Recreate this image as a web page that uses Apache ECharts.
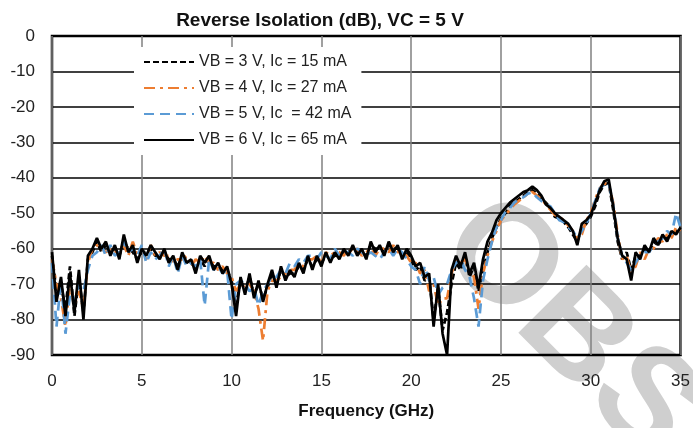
<!DOCTYPE html>
<html>
<head>
<meta charset="utf-8">
<script src="https://cdn.jsdelivr.net/npm/echarts@6/dist/echarts.min.js"></script>
<style>
  html, body { margin: 0; padding: 0; background: #fff; }
  #chart { width: 693px; height: 428px; }
</style>
</head>
<body>
<div id="chart"></div>
<script>
// frequency grid (GHz), 0.25 GHz steps, 8 per row
const freq = [
  0, 0.25, 0.5, 0.75, 1, 1.25, 1.5, 1.75,
  2, 2.25, 2.5, 2.75, 3, 3.25, 3.5, 3.75,
  4, 4.25, 4.5, 4.75, 5, 5.25, 5.5, 5.75,
  6, 6.25, 6.5, 6.75, 7, 7.25, 7.5, 7.75,
  8, 8.25, 8.5, 8.75, 9, 9.25, 9.5, 9.75,
  10, 10.25, 10.5, 10.75, 11, 11.25, 11.5, 11.75,
  12, 12.25, 12.5, 12.75, 13, 13.25, 13.5, 13.75,
  14, 14.25, 14.5, 14.75, 15, 15.25, 15.5, 15.75,
  16, 16.25, 16.5, 16.75, 17, 17.25, 17.5, 17.75,
  18, 18.25, 18.5, 18.75, 19, 19.25, 19.5, 19.75,
  20, 20.25, 20.5, 20.75, 21, 21.25, 21.5, 21.75,
  22, 22.25, 22.5, 22.75, 23, 23.25, 23.5, 23.75,
  24, 24.25, 24.5, 24.75, 25, 25.25, 25.5, 25.75,
  26, 26.25, 26.5, 26.75, 27, 27.25, 27.5, 27.75,
  28, 28.25, 28.5, 28.75, 29, 29.25, 29.5, 29.75,
  30, 30.25, 30.5, 30.75, 31, 31.25, 31.5, 31.75,
  32, 32.25, 32.5, 32.75, 33, 33.25, 33.5, 33.75,
  34, 34.25, 34.5, 34.75, 35
];

// VB = 3 V, Ic = 15 mA
const vb3 = [
  -62, -72, -70, -77, -65, -79, -68, -78,
  -63, -61, -58, -61, -59, -61, -60, -62,
  -58, -60, -61, -63, -61, -61, -60, -62,
  -62, -61, -63, -63, -65, -62, -63, -64,
  -66, -63, -65, -63, -65, -65, -66, -66,
  -69, -76, -69, -72, -68, -73, -70, -74,
  -71, -67, -70, -66, -68, -67, -67, -65,
  -66, -63, -65, -63, -64, -62, -63, -62,
  -62, -61, -61, -60, -61, -61, -62, -59,
  -60, -60, -61, -59, -60, -60, -62, -61,
  -63, -66, -65, -69, -68, -80, -71, -83,
  -78, -70, -64, -66, -62, -68, -65, -72,
  -66, -61, -57, -54, -51.5, -50, -48, -47,
  -46, -45, -44, -43.5, -44.5, -46, -47, -48.5,
  -51, -51.5, -52.5, -54, -56, -58, -54, -53,
  -51, -48, -44, -42, -41.5, -49, -58, -63,
  -61, -66, -62, -62, -60, -61, -58, -59,
  -57, -57, -56, -55, -55
];

// VB = 4 V, Ic = 27 mA
const vb4 = [
  -63, -70, -74, -82, -70, -76, -72, -77,
  -64, -60, -59, -60, -61, -60, -61, -60,
  -59, -62, -58, -62, -60, -63, -59, -62,
  -61, -62, -62, -64, -63, -63, -62, -65,
  -63, -64, -62, -64, -64, -66, -65, -67,
  -68, -72, -70, -71, -70, -72, -77, -86,
  -72, -69, -69, -68, -67, -66, -66, -64,
  -65, -63, -63, -62, -64, -61, -62, -61,
  -61, -62, -60, -61, -60, -62, -61, -60,
  -62, -60, -60, -61, -59, -61, -61, -62,
  -64, -64, -67, -66, -72, -70, -76, -74,
  -74, -67, -63, -64, -63, -66, -68, -77,
  -67, -62, -58, -55, -52, -50.5, -49, -47.5,
  -46.5, -45.5, -44.5, -44, -45, -46, -47.5, -49,
  -50.5, -51, -52, -53.5, -55, -57, -56, -52,
  -50, -46, -43, -41.5, -42, -47, -56, -63,
  -62, -67, -65, -61, -63, -60, -60, -57,
  -58, -56, -57, -54, -55
];

// VB = 5 V, Ic = 42 mA
const vb5 = [
  -64, -82, -69, -84, -73, -75, -70, -72,
  -66, -62, -61, -59, -62, -59, -62, -61,
  -58, -61, -60, -62, -59, -64, -61, -63,
  -62, -60, -65, -62, -67, -62, -65, -64,
  -65, -63, -76, -63, -66, -65, -67, -66,
  -80, -70, -69, -70, -72, -71, -76, -72,
  -70, -68, -68, -66, -67, -64, -65, -63,
  -64, -62, -62, -63, -61, -62, -63, -60,
  -62, -61, -61, -62, -60, -61, -62, -61,
  -62, -63, -61, -60, -62, -60, -61, -63,
  -65, -66, -70, -65, -69, -68, -73, -71,
  -70, -66, -64, -63, -66, -68, -74, -82,
  -69, -63, -58, -54, -52, -49.5, -48.5, -47,
  -46, -45.5, -44.5, -44, -45.5, -46.5, -47.5, -48,
  -50, -52, -52.5, -54, -55, -57, -55, -53,
  -50, -46.5, -43, -42, -41.5, -47.5, -57, -62,
  -64, -66, -64, -62, -61, -61, -59, -58,
  -57, -55, -56, -50, -54
];

// VB = 6 V, Ic = 65 mA
const vb6 = [
  -61, -75, -68, -79, -67, -78, -66, -80,
  -62, -60, -57, -60, -58, -62, -59, -63,
  -56, -61, -59, -64, -60, -62, -59, -61,
  -63, -60, -64, -62, -66, -61, -64, -63,
  -67, -62, -64, -62, -66, -64, -67, -65,
  -70, -79, -68, -73, -67, -74, -69, -75,
  -70, -66, -71, -65, -69, -66, -68, -64,
  -67, -62, -66, -62, -65, -61, -64, -61,
  -63, -60, -62, -59, -62, -60, -63, -58,
  -61, -59, -62, -58, -61, -59, -63, -60,
  -62, -65, -64, -68, -67, -82, -70, -84,
  -90, -66, -62, -65, -61, -67, -64, -71,
  -63, -58, -55.5, -52, -50, -48.5, -47, -46,
  -45, -44, -43.5, -42.5, -43.5, -45, -47.5, -48.5,
  -50, -51, -52, -53, -55, -59, -53, -52,
  -50.5, -47, -43.5, -41, -40.5, -48, -57, -62,
  -63, -69, -61, -63, -59, -61, -57, -59,
  -56, -58, -55, -56, -54
];

const names = [
  'VB = 3 V, Ic = 15 mA',
  'VB = 4 V, Ic = 27 mA',
  'VB = 5 V, Ic  = 42 mA',
  'VB = 6 V, Ic = 65 mA'
];

const pairs = (vals) => vals.map((v, i) => [freq[i], v]);

const myChart = echarts.init(document.getElementById('chart'));
myChart.setOption({
  animation: false,
  textStyle: { fontFamily: 'Liberation Sans, Arial, sans-serif' },
  title: {
    text: 'Reverse Isolation (dB), VC = 5 V',
    left: 315,
    top: 6,
    textAlign: 'center',
    textStyle: { fontSize: 19, fontWeight: 'bold', color: '#111' }
  },
  legend: {
    orient: 'vertical',
    left: 134,
    top: 47,
    padding: [7, 10, 7, 9],
    backgroundColor: '#fff',
    itemWidth: 50,
    itemHeight: 14,
    itemGap: 10,
    data: names,
    itemStyle: { opacity: 0 },
    textStyle: { fontSize: 16, color: '#222' }
  },
  grid: {
    left: 52,
    right: 12,
    top: 36,
    bottom: 73,
    show: true,
    borderColor: '#000',
    borderWidth: 2.5,
    backgroundColor: 'transparent'
  },
  graphic: [{
    type: 'text',
    x: 462,
    y: 222,
    rotation: -Math.PI / 4,
    z: -10,
    silent: true,
    style: {
      text: 'OBSOLETE',
      fontSize: 140,
      fontWeight: 'bold',
      fontFamily: 'Liberation Sans, Arial, sans-serif',
      fill: '#cfcfcf',
      textAlign: 'left',
      textVerticalAlign: 'middle'
    }
  }],
  xAxis: {
    type: 'value',
    min: 0,
    max: 35,
    interval: 5,
    name: 'Frequency (GHz)',
    nameLocation: 'middle',
    nameGap: 48,
    nameTextStyle: { fontSize: 17, fontWeight: 'bold', color: '#111' },
    axisLine: { show: false },
    axisTick: { show: false },
    axisLabel: { fontSize: 17, color: '#222', margin: 18 },
    splitLine: { show: true, lineStyle: { color: '#808080', width: 1.5 } }
  },
  yAxis: {
    type: 'value',
    min: -90,
    max: 0,
    interval: 10,
    axisLine: { show: false },
    axisTick: { show: false },
    axisLabel: { fontSize: 17, color: '#222', margin: 17 },
    splitLine: { show: true, lineStyle: { color: '#000', width: 1.6 } }
  },
  series: [
    {
      name: names[0], type: 'line', symbol: 'none', data: pairs(vb3),
      lineStyle: { color: '#000', width: 2.7, type: [6, 3] },
      itemStyle: { color: '#000' }
    },
    {
      name: names[1], type: 'line', symbol: 'none', data: pairs(vb4),
      lineStyle: { color: '#ED7D31', width: 2.7, type: [11, 5, 3, 5] },
      itemStyle: { color: '#ED7D31' }
    },
    {
      name: names[2], type: 'line', symbol: 'none', data: pairs(vb5),
      lineStyle: { color: '#5B9BD5', width: 2.7, type: [10, 6] },
      itemStyle: { color: '#5B9BD5' }
    },
    {
      name: names[3], type: 'line', symbol: 'none', data: pairs(vb6),
      lineStyle: { color: '#000', width: 2.7, type: 'solid' },
      itemStyle: { color: '#000' }
    }
  ]
});
</script>
</body>
</html>
